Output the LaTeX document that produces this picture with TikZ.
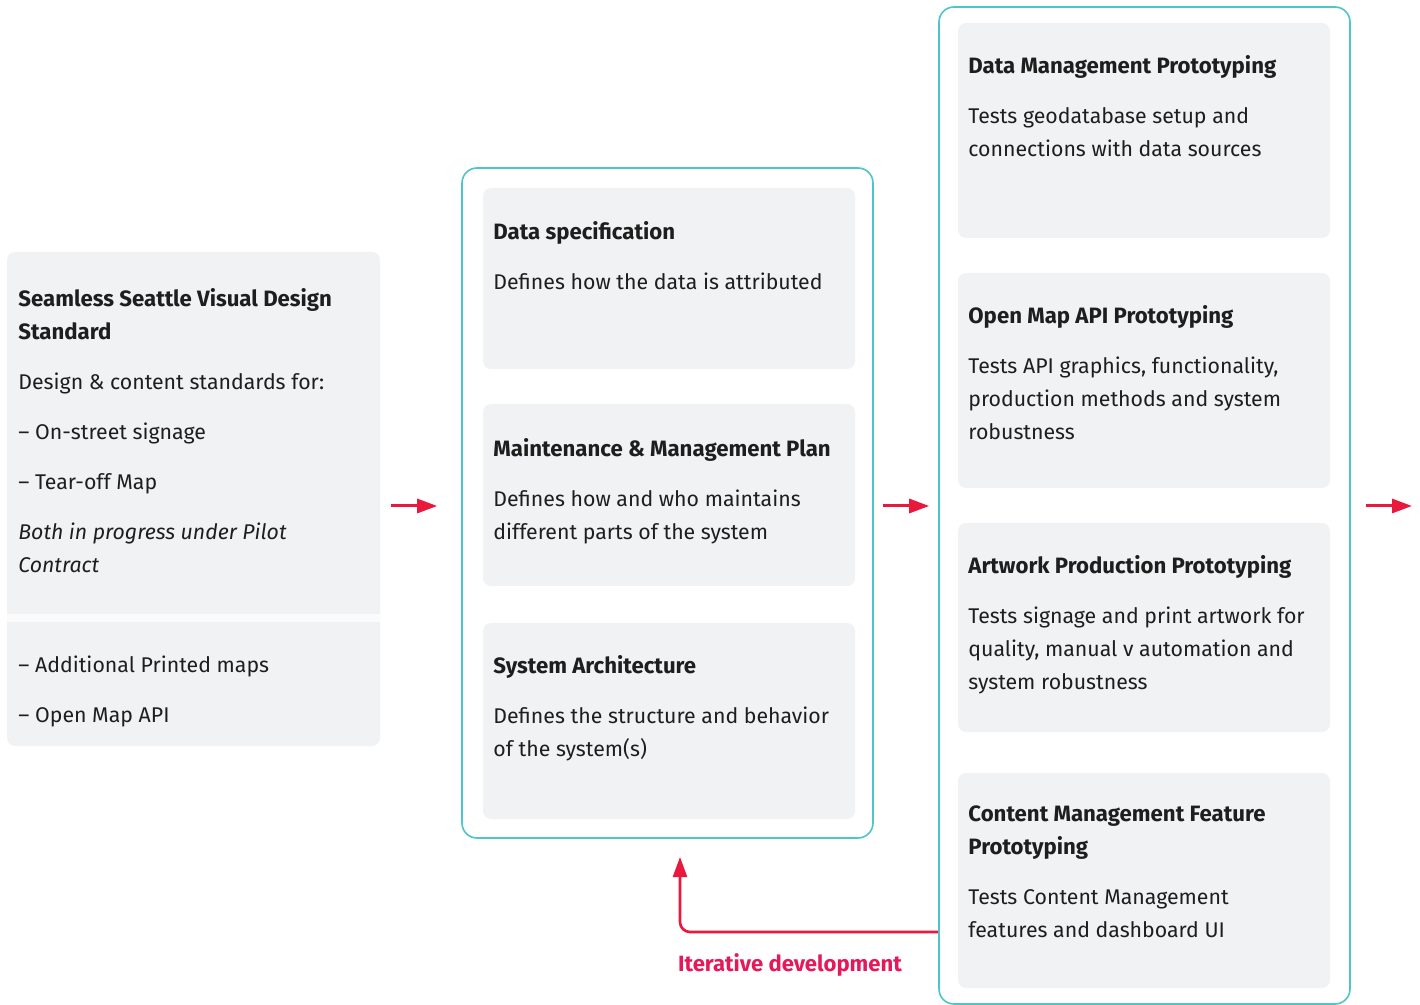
\documentclass[tikz,border=0pt]{standalone}
\usepackage{fontspec}
\setmainfont{Fira Sans}
\usetikzlibrary{arrows.meta,positioning,calc,fit}
\definecolor{ssteal}{HTML}{4CC6C9}
\definecolor{ssred}{HTML}{E8193C}
\definecolor{sspink}{HTML}{E5195A}
\definecolor{ssgray}{HTML}{F1F2F3}
\definecolor{ssink}{HTML}{1E1E1E}
\tikzset{
  grayBox/.style={fill=ssgray, rounded corners=4pt, inner sep=0pt},
  tealFrame/.style={draw=ssteal, line width=0.8pt, rounded corners=7.5pt, inner sep=0pt},
  bodyText/.style={anchor=north west, inner sep=0pt, align=left, text=ssink,
    font=\fontsize{10.65}{16.5}\selectfont},
  flowArrow/.style={-{Triangle[length=10pt,width=7pt]}, draw=ssred, line width=1.5pt},
  loopLabel/.style={font=\bfseries\fontsize{11.05}{12}\selectfont, text=sspink}
}
\newcommand{\pgap}{\\[8.5pt]}
\newcommand{\boxtitle}[1]{{\fontsize{11.1}{16.5}\selectfont\bfseries #1}}

\begin{document}
\begin{tikzpicture}[x=0.5pt,y=-0.5pt]
  \useasboundingbox (0,0) rectangle (1420,1005);
  % left standard box
  \node[grayBox, fit={(7,252)(380,746)}] (leftBox) {};
  \node[fill=white!70!ssgray, inner sep=0pt, fit={(7,614)(380,622)}] (leftCut) {};
  \node[bodyText] (leftTop) at (18,288) {\boxtitle{Seamless Seattle Visual Design}\\
    \boxtitle{Standard}\pgap
    Design \& content standards for:\pgap
    -- On-street signage\pgap
    -- Tear-off Map\pgap
    \textit{Both in progress under Pilot}\\
    \textit{Contract}};
  \node[bodyText] (leftLow) at (18,655) {-- Additional Printed maps\pgap
    -- Open Map API};

  % middle frame
  \node[tealFrame, fit={(462,168)(873,838)}] (midFrame) {};
  \node[grayBox, fit={(483,188)(855,369)}] (dataSpec) {};
  \node[grayBox, fit={(483,404)(855,586)}] (maintPlan) {};
  \node[grayBox, fit={(483,623)(855,819)}] (sysArch) {};
  \node[bodyText] (dataSpecTxt) at (493,221) {\boxtitle{Data specification}\pgap
    Defines how the data is attributed};
  \node[bodyText] (maintPlanTxt) at (493,438) {\boxtitle{Maintenance \& Management Plan}\pgap
    Defines how and who maintains\\
    different parts of the system};
  \node[bodyText] (sysArchTxt) at (493,655) {\boxtitle{System Architecture}\pgap
    Defines the structure and behavior\\
    of the system(s)};

  % right frame
  \node[tealFrame, fit={(939,7)(1350,1004)}] (rightFrame) {};
  \node[grayBox, fit={(958,23)(1330,238)}] (dataProto) {};
  \node[grayBox, fit={(958,273)(1330,488)}] (apiProto) {};
  \node[grayBox, fit={(958,523)(1330,732)}] (artProto) {};
  \node[grayBox, fit={(958,773)(1330,988)}] (cmsProto) {};
  \node[bodyText] (dataProtoTxt) at (968,55) {\boxtitle{Data Management Prototyping}\pgap
    Tests geodatabase setup and\\
    connections with data sources};
  \node[bodyText] (apiProtoTxt) at (968,305) {\boxtitle{Open Map API Prototyping}\pgap
    Tests API graphics, functionality,\\
    production methods and system\\
    robustness};
  \node[bodyText] (artProtoTxt) at (968,555) {\boxtitle{Artwork Production Prototyping}\pgap
    Tests signage and print artwork for\\
    quality, manual v automation and\\
    system robustness};
  \node[bodyText] (cmsProtoTxt) at (968,805) {\boxtitle{Content Management Feature}\\
    \boxtitle{Prototyping}\pgap
    Tests Content Management\\
    features and dashboard UI};

  % connectors
  \coordinate (flowY) at (0,506);
  \coordinate (nextStage) at (1412,506);
  \coordinate (loopY) at (0,932);
  \coordinate (loopEnd) at (680,857);
  \draw[flowArrow] ([xshift=5.5pt]leftBox.east |- flowY) -- ([xshift=-12pt]midFrame.west |- flowY);
  \draw[flowArrow] ([xshift=4.5pt]midFrame.east |- flowY) -- ([xshift=-4.5pt]rightFrame.west |- flowY);
  \draw[flowArrow] ([xshift=7.5pt]rightFrame.east |- flowY) -- (nextStage);
  \draw[flowArrow, line width=1.3pt, rounded corners=5pt] (rightFrame.west |- loopY) -| (loopEnd);
  \node[loopLabel] (loopTxt) at (790,965) {Iterative development};
\end{tikzpicture}
\end{document}
